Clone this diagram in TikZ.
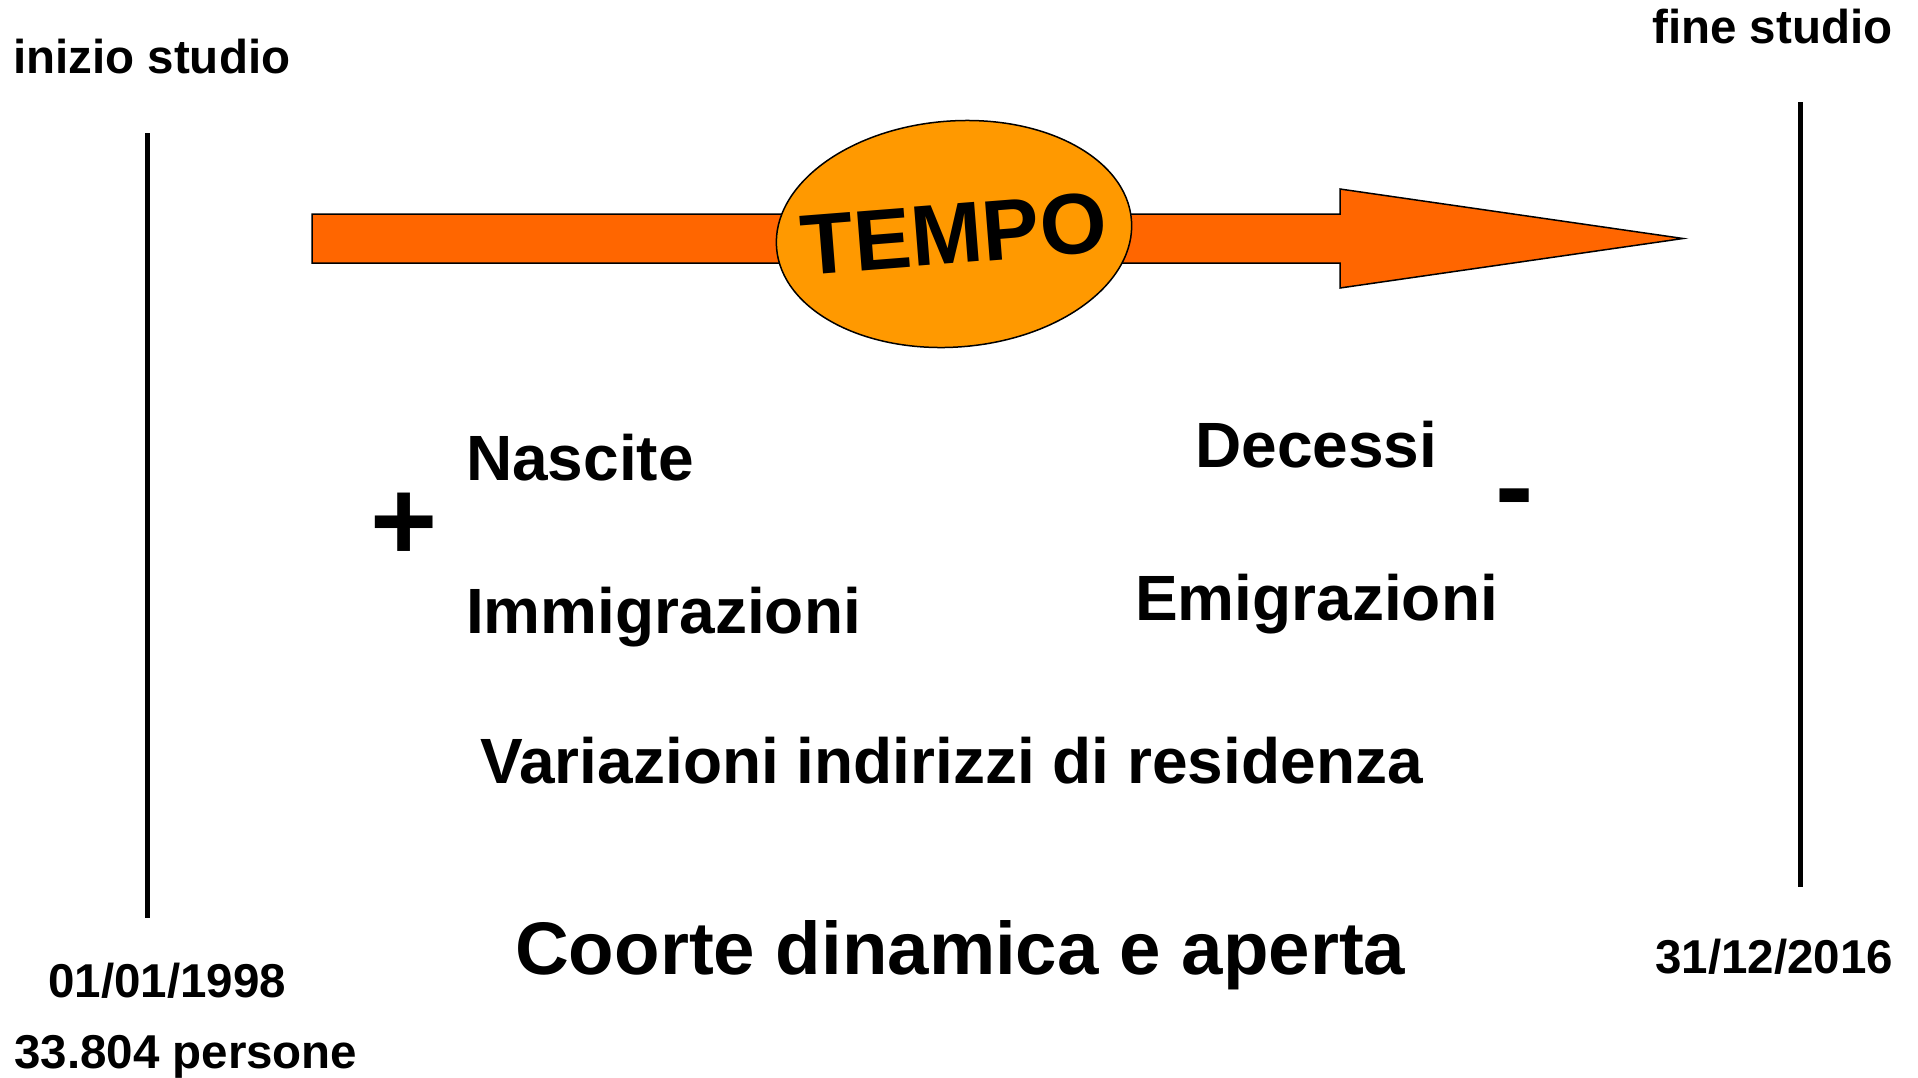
\documentclass[tikz,border=0pt]{standalone}
\usepackage{fontspec}
\setmainfont{Liberation Sans}
\usetikzlibrary{shapes,positioning}
\definecolor{arroworange}{HTML}{FF6600}
\definecolor{ellipseorange}{HTML}{FF9900}
\tikzstyle{datetext} = [font=\fontsize{47.5}{57}\selectfont\bfseries, inner sep=0pt, anchor=base west]
\tikzstyle{itemtext} = [font=\fontsize{64}{77}\selectfont\bfseries, inner sep=0pt, anchor=base west]
\tikzstyle{titletext} = [font=\fontsize{74.5}{89}\selectfont\bfseries, inner sep=0pt, anchor=base west]
\tikzstyle{signtext} = [font=\fontsize{115}{138}\selectfont\bfseries, inner sep=0pt]
\tikzstyle{studyline} = [draw, line width=5pt]
\tikzstyle{timearrow} = [draw, fill=arroworange, line width=1.5pt]
\tikzstyle{timeellipse} = [ellipse, draw, fill=ellipseorange, line width=1.5pt, minimum width=356pt, minimum height=226pt, inner sep=0pt, rotate=4.5]

\begin{document}
\begin{tikzpicture}[x=1pt, y=-1pt]
        \useasboundingbox (0,0) rectangle (1918,1077);
        \path [studyline] (147,133) -- (147,918);
        \path [studyline] (1800,102) -- (1800,887);
        \path [timearrow] (312,214) -- (1340,214) -- (1340,189) -- (1683,238.5) -- (1340,288) -- (1340,263) -- (312,263) -- cycle;
        \node (tempo) [timeellipse] at (954,234) {};
        \node (tempoText) [font=\fontsize{86}{103}\selectfont\bfseries, inner sep=0pt, rotate=4.5] at (tempo.center) {TEMPO};

        \node (inizio) [datetext] at (13,73) {inizio studio};
        \node (fine) [datetext] at (1652,43) {fine studio};
        \node (startDate) [datetext] at (48,997) {01/01/1998};
        \node (persone) [datetext] at (14,1068) {33.804 persone};
        \node (endDate) [datetext] at (1655,973) {31/12/2016};

        \node (nascite) [itemtext] at (466,480) {Nascite};
        \node (immigrazioni) [below=153pt of nascite.base west, itemtext] {Immigrazioni};
        \node (decessi) [itemtext] at (1195,467) {Decessi};
        \node (emigrazioni) [itemtext] at (1135,620) {Emigrazioni};
        \node (plus) [signtext] at (404,527) {+};
        \node (minus) [signtext] at (1515,507) {-};
        \node (variazioni) [itemtext] at (480,783) {Variazioni indirizzi di residenza};
        \node (coorte) [titletext] at (515,974) {Coorte dinamica e aperta};
    \end{tikzpicture}
\end{document}
